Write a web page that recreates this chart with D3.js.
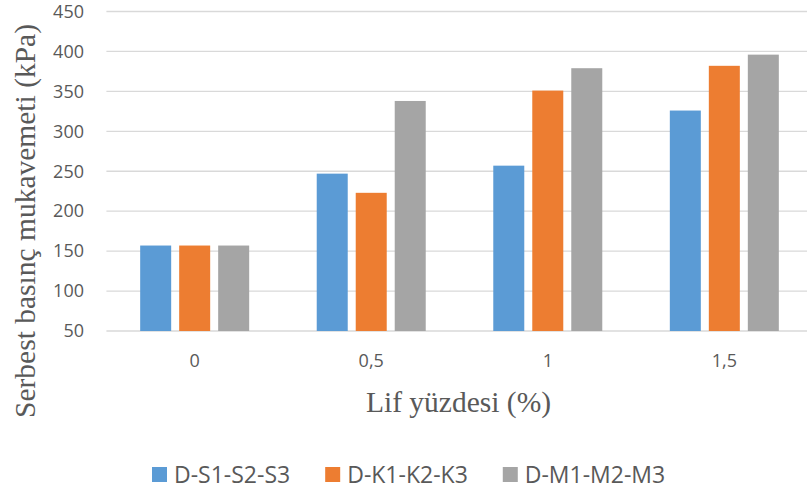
<!DOCTYPE html>
<html>
<head>
<meta charset="utf-8">
<script src="https://cdn.jsdelivr.net/npm/d3@7"></script>
<style>
  html, body { margin: 0; padding: 0; background: #fff; }
  svg { display: block; }
</style>
</head>
<body>
<svg id="chart" width="807" height="493"></svg>
<script>
// Fibre percentage categories and the three mixture series (kPa)
const categories = ["0", "0,5", "1", "1,5"];
const seriesNames = ["D-S1-S2-S3", "D-K1-K2-K3", "D-M1-M2-M3"];
const valuesS = [157, 247, 257, 326];
const valuesK = [157, 223, 351, 382];
const valuesM = [157, 338, 379, 396];
const yTicks = [50, 100, 150, 200, 250, 300, 350, 400, 450];
const colors = ["#5b9bd5", "#ed7d31", "#a5a5a5"];

const seriesValues = [valuesS, valuesK, valuesM];
const rows = categories.map((c, i) => ({
  cat: c,
  vals: seriesNames.map((s, j) => ({ key: s, value: seriesValues[j][i], idx: j }))
}));

const svg = d3.select("#chart");
const sans = "'Open Sans', 'DejaVu Sans', sans-serif";
const serif = "'Liberation Serif', 'Times New Roman', serif";
const textColor = "#595959";

const plot = { left: 106.4, right: 812.6, top: 11.5, bottom: 331 };

const x0 = d3.scaleBand().domain(categories).range([plot.left, plot.right]).paddingInner(0).paddingOuter(0);
const clusterW = 117;
const x1 = d3.scaleBand().domain(seriesNames).range([0, clusterW]).paddingInner(8 / 39).paddingOuter(4 / 39);
const y = d3.scaleLinear().domain([50, 450]).range([plot.bottom, plot.top]);

// Horizontal gridlines
svg.append("g")
  .selectAll("line")
  .data(yTicks)
  .join("line")
  .attr("x1", plot.left)
  .attr("x2", plot.right)
  .attr("y1", d => y(d))
  .attr("y2", d => y(d))
  .attr("stroke", "#d9d9d9")
  .attr("stroke-width", 1.3);

// Y axis labels
const yAxis = d3.axisLeft(y).tickValues(yTicks).tickSize(0).tickPadding(0).tickFormat(d3.format("d"));
svg.append("g")
  .attr("transform", `translate(84,0)`)
  .call(yAxis)
  .call(g => g.select(".domain").remove())
  .call(g => g.selectAll("text")
    .attr("fill", textColor)
    .style("font-family", sans)
    .style("font-size", "18px"));

// Bars
const groups = svg.append("g")
  .selectAll("g")
  .data(rows)
  .join("g")
  .attr("transform", d => `translate(${x0(d.cat) + (x0.bandwidth() - clusterW) / 2},0)`);

groups.selectAll("rect")
  .data(d => d.vals)
  .join("rect")
  .attr("x", d => x1(d.key))
  .attr("width", x1.bandwidth())
  .attr("y", d => y(d.value))
  .attr("height", d => y(50) - y(d.value))
  .attr("fill", d => colors[d.idx]);

// X axis labels
const xAxis = d3.axisBottom(x0).tickSize(0).tickPadding(0);
svg.append("g")
  .attr("transform", `translate(0,${plot.bottom + 23})`)
  .call(xAxis)
  .call(g => g.select(".domain").remove())
  .call(g => g.selectAll("text")
    .attr("fill", textColor)
    .attr("dy", "0.71em")
    .style("font-family", sans)
    .style("font-size", "18px"));

// Axis titles
svg.append("text")
  .attr("x", (plot.left + plot.right) / 2 - 1)
  .attr("y", 412)
  .attr("text-anchor", "middle")
  .attr("fill", textColor)
  .style("font-family", serif)
  .style("font-size", "29.5px")
  .text("Lif yüzdesi (%)");

svg.append("text")
  .attr("transform", "translate(35,221) rotate(-90)")
  .attr("text-anchor", "middle")
  .attr("fill", textColor)
  .style("font-family", serif)
  .style("font-size", "29.5px")
  .text("Serbest basınç mukavemeti (kPa)");

// Legend
const legend = svg.append("g").attr("transform", "translate(152,467)");
let lx = 0;
seriesNames.forEach((name, i) => {
  const item = legend.append("g").attr("transform", `translate(${lx},0)`);
  item.append("rect").attr("width", 15).attr("height", 15).attr("fill", colors[i]);
  const t = item.append("text")
    .attr("x", 22)
    .attr("y", 7.5)
    .attr("dy", "0.36em")
    .attr("fill", textColor)
    .style("font-family", sans)
    .style("font-size", "23px")
    .text(name);
  lx += 22 + t.node().getComputedTextLength() + 35;
});
</script>
</body>
</html>
